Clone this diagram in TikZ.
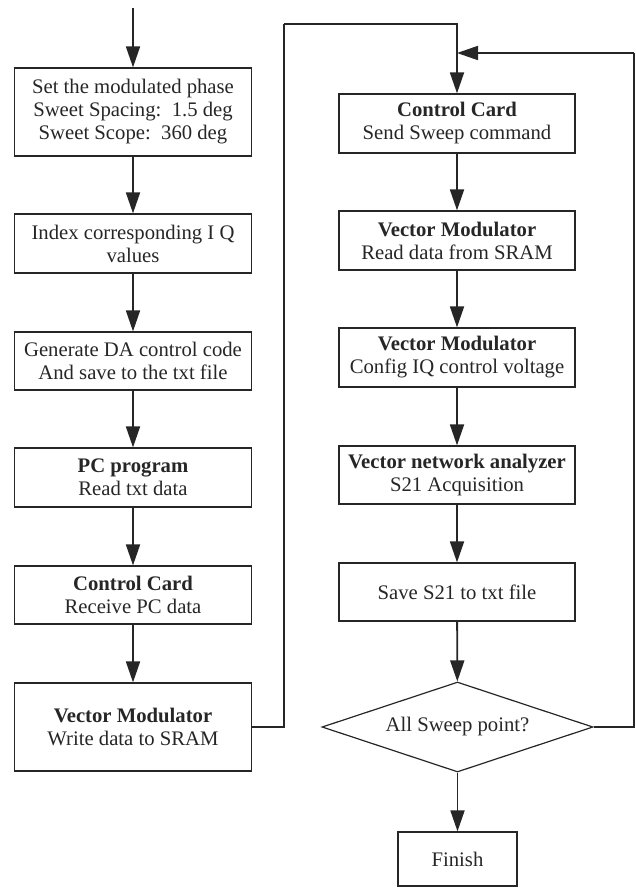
\documentclass[tikz,border=0pt]{standalone}
\usepackage{fontspec}
\setmainfont{Liberation Serif}
\usetikzlibrary{arrows.meta,shapes.geometric}

\tikzset{
  procbox/.style={draw=black!85, line width=1.2pt, rectangle, inner sep=0pt,
    align=center, font=\fontsize{20.7}{23}\selectfont, text=black!85},
  leftbox/.style={procbox, minimum width=237pt},
  rightbox/.style={procbox, minimum width=236pt},
  decision/.style={draw=black!85, line width=1.2pt, diamond, inner sep=0pt,
    shape aspect=3.01, minimum width=271pt, minimum height=90pt,
    font=\fontsize{20.7}{23}\selectfont, text=black!85},
  flow/.style={draw=black!85, line width=1.8pt,
    -{Triangle[length=21pt,width=14pt]}},
  plainline/.style={draw=black!85, line width=1.5pt}
}

\begin{document}
\begin{tikzpicture}[x=1pt,y=-1pt]
  \useasboundingbox (0,0) rectangle (636,888);

  % left column
  \node[leftbox, minimum height=88pt] (b1) at (133,112)
    {Set the modulated phase\\Sweet Spacing:\ \ 1.5 deg\\Sweet Scope:\ \ 360 deg};
  \node[leftbox, minimum height=59pt] (b2) at (133,243.5)
    {Index corresponding I Q\\values};
  \node[leftbox, minimum height=58pt] (b3) at (133,361)
    {Generate DA control code\\And save to the txt file};
  \node[leftbox, minimum height=59pt] (b4) at (133,477.5)
    {\textbf{PC program}\\Read txt data};
  \node[leftbox, minimum height=58pt] (b5) at (133,595)
    {\textbf{Control Card}\\Receive PC data};
  \node[leftbox, minimum height=88pt] (b6) at (133,727)
    {\textbf{Vector Modulator}\\Write data to SRAM};

  % right column
  \node[rightbox, minimum height=59pt] (r1) at (457,123.5)
    {\textbf{Control Card}\\Send Sweep command};
  \node[rightbox, minimum height=59pt] (r2) at (457,240.5)
    {\textbf{Vector Modulator}\\Read data from SRAM};
  \node[rightbox, minimum height=59pt] (r3) at (457,357.5)
    {\textbf{Vector Modulator}\\Config IQ control voltage};
  \node[rightbox, minimum height=58pt] (r4) at (457,475)
    {\textbf{Vector network analyzer}\\S21 Acquisition};
  \node[rightbox, minimum height=58pt] (r5) at (457,592)
    {Save S21 to txt file};
  \node[decision] (dec) at (457.5,727) {All Sweep point?};
  \node[procbox, minimum width=119pt, minimum height=54pt] (fin) at (457.5,859) {Finish};

  % helper points for the routed lines
  \coordinate (start) at (133,8);
  \coordinate (loopTop) at (284,24);
  \coordinate (fbCorner) at (634,53);
  \coordinate (fbJoin) at (457,53);

  % left column flow
  \draw[flow] (start) -- (b1);
  \draw[flow] (b1) -- (b2);
  \draw[flow] (b2) -- (b3);
  \draw[flow] (b3) -- (b4);
  \draw[flow] (b4) -- (b5);
  \draw[flow] (b5) -- (b6);

  % link to the right column
  \draw[plainline] (b6.east) -| (loopTop);
  \draw[flow] (loopTop) -| (r1.north);

  % right column flow
  \draw[flow] (r1) -- (r2);
  \draw[flow] (r2) -- (r3);
  \draw[flow] (r3) -- (r4);
  \draw[flow] (r4) -- (r5);
  \draw[flow] (r5) -- (dec);
  \draw[flow] (dec) -- (fin);

  % repeat loop
  \draw[plainline] (dec.east) -| (fbCorner);
  \draw[flow] (fbCorner) -- (fbJoin);
\end{tikzpicture}
\end{document}
